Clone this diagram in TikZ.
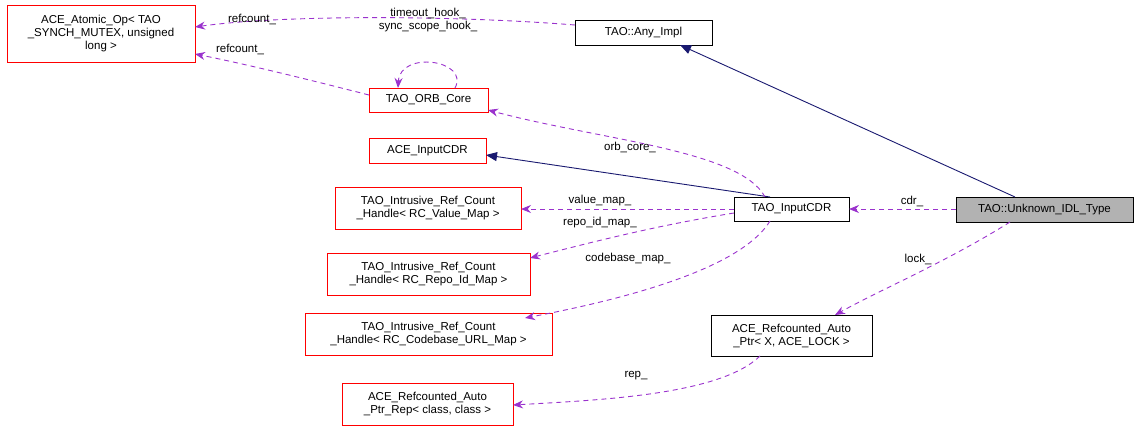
\documentclass[tikz,border=0pt]{standalone}
\usepackage{fontspec}
\setmainfont{Liberation Sans}
\usetikzlibrary{arrows.meta}
\definecolor{dox}{RGB}{154,50,205}
\definecolor{navy}{RGB}{25,25,112}
\begin{document}
\begin{tikzpicture}[x=1pt,y=-1pt,
 every node/.style={font=\fontsize{11.5}{13}\selectfont},
 box/.style={draw=#1,fill=white,inner sep=0pt,align=center,anchor=north west,line width=0.9pt},
 lbl/.style={inner sep=1pt,align=center},
 use/.style={draw=dox,line width=0.9pt,dash pattern=on 5pt off 4pt,-{Stealth[length=10pt,width=8pt]}},
 inh/.style={draw=navy,line width=0.9pt,-{Triangle[open,fill=navy,length=11pt,width=9pt]}}]
\useasboundingbox (0,0) rectangle (1139,431);
\newcommand{\bx}[6]{\node[box=#2,minimum width=#5-#3,minimum height=#6-#4] (#1) at (#3,#4) {};}
\bx{atomic}{red}{7}{5}{195}{62}
\node[lbl] at (101,33.5) {ACE\_Atomic\_Op< TAO\\\_SYNCH\_MUTEX, unsigned\\long >};
\bx{any}{black}{575}{20}{712}{45}
\node[lbl] at (643.5,32.5) {TAO::Any\_Impl};
\bx{orb}{red}{369}{88}{488}{112}
\node[lbl] at (428.5,100) {TAO\_ORB\_Core};
\bx{acecdr}{red}{369}{138}{486}{163}
\node[lbl] at (427.5,150.5) {ACE\_InputCDR};
\bx{vm}{red}{335}{187}{521}{229}
\node[lbl] at (428,208) {TAO\_Intrusive\_Ref\_Count\\\_Handle< RC\_Value\_Map >};
\bx{cdr}{black}{734}{197}{849}{221}
\node[lbl] at (791.5,209) {TAO\_InputCDR};
\node[box=black,fill=black!30,minimum width=177,minimum height=25] (unk) at (956,197) {};
\node[lbl] at (1044.5,209.5) {TAO::Unknown\_IDL\_Type};
\bx{rim}{red}{327}{253}{530}{295}
\node[lbl] at (428.5,274) {TAO\_Intrusive\_Ref\_Count\\\_Handle< RC\_Repo\_Id\_Map >};
\bx{cbm}{red}{305}{313}{552}{355}
\node[lbl] at (428.5,334) {TAO\_Intrusive\_Ref\_Count\\\_Handle< RC\_Codebase\_URL\_Map >};
\bx{rap}{black}{711}{315}{872}{356}
\node[lbl] at (791.5,335.5) {ACE\_Refcounted\_Auto\\\_Ptr< X, ACE\_LOCK >};
\bx{rep}{red}{342}{383}{513}{425}
\node[lbl] at (427.5,404) {ACE\_Refcounted\_Auto\\\_Ptr\_Rep< class, class >};

\draw[inh] (1015,197) -- (680,45);
\draw[inh] (770,197) -- (486,155);
\draw[use] (575,25) .. controls (450,15) and (280,15) .. (195,27);
\node[lbl] at (252,19) {refcount\_};
\draw[use] (369,95) .. controls (310,80) and (250,65) .. (195,54);
\node[lbl] at (240,49) {refcount\_};
\draw[use] (455,88) .. controls (470,60) and (400,50) .. (398,88);
\node[lbl] at (428,20) {timeout\_hook\_\\sync\_scope\_hook\_};
\draw[use] (765,197) .. controls (740,150) and (600,140) .. (488,110);
\node[lbl] at (630,147) {orb\_core\_};
\draw[use] (734,209) -- (521,209);
\node[lbl] at (600,201) {value\_map\_};
\draw[use] (734,213) .. controls (660,225) and (600,240) .. (530,258);
\node[lbl] at (600,223) {repo\_id\_map\_};
\draw[use] (770,221) .. controls (740,270) and (620,300) .. (525,318);
\node[lbl] at (628,259) {codebase\_map\_};
\draw[use] (956,209) -- (849,209);
\node[lbl] at (912,201) {cdr\_};
\draw[use] (1010,222) .. controls (950,260) and (880,290) .. (835,315);
\node[lbl] at (918,259) {lock\_};
\draw[use] (760,356) .. controls (720,395) and (600,400) .. (513,405);
\node[lbl] at (636,376) {rep\_};
\end{tikzpicture}
\end{document}
